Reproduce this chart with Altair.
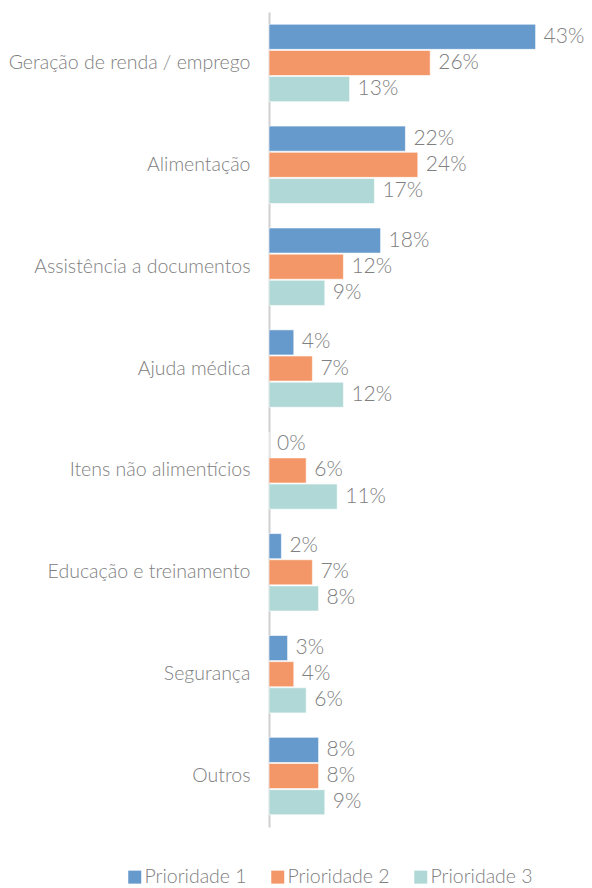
import altair as alt
import pandas as pd

categories = ["Geração de renda / emprego", "Alimentação", "Assistência a documentos",
              "Ajuda médica", "Itens não alimentícios", "Educação e treinamento",
              "Segurança", "Outros"]
series = ["Prioridade 1", "Prioridade 2", "Prioridade 3"]
p1 = [43, 22, 18, 4, 0, 2, 3, 8]
p2 = [26, 24, 12, 7, 6, 7, 4, 8]
p3 = [13, 17, 9, 12, 11, 8, 6, 9]
colors = ["#6699cc", "#f39768", "#afd8d6"]

rows = []
for i, c in enumerate(categories):
    for s, vals in zip(series, [p1, p2, p3]):
        rows.append({"cat": c, "serie": s, "val": vals[i], "lbl": f"{vals[i]}%"})
df = pd.DataFrame(rows)

FONT = "Lato"
GRAY = "#808080"

y = alt.Y("cat:N", sort=categories, title=None,
          scale=alt.Scale(paddingInner=0.24, paddingOuter=0.12),
          axis=alt.Axis(labelFont=FONT, labelFontSize=19.5, labelColor=GRAY,
                        labelFontWeight=300,
                        labelPadding=19, ticks=False, domainColor="#d0d0d0",
                        domainWidth=2, labelLimit=300))
yoff = alt.YOffset("serie:N", sort=series, scale=alt.Scale(paddingInner=0.04))
x = alt.X("val:Q", scale=alt.Scale(domain=[0, 50]), axis=None)

bars = alt.Chart(df).mark_bar(stroke="white", strokeWidth=0.6).encode(
    x=x, y=y, yOffset=yoff,
    color=alt.Color("serie:N", sort=series,
                    scale=alt.Scale(domain=series, range=colors),
                    legend=alt.Legend(title=None, orient="none", direction="horizontal",
                                      legendX=-144, legendY=855,
                                      symbolType="square", symbolSize=169,
                                      symbolStrokeWidth=0,
                                      labelFont=FONT, labelFontSize=19.5,
                                      labelFontWeight=300,
                                      labelColor=GRAY, labelOffset=0,
                                      columnPadding=21)),
)
text = alt.Chart(df).mark_text(align="left", baseline="middle", dx=8,
                               font=FONT, fontSize=21, fontWeight=300,
                               color=GRAY).encode(
    x=x, y=y, yOffset=yoff, text="lbl:N")

chart = (bars + text).properties(
    width=310, height=815,
    autosize=alt.AutoSizeParams(type="none"),
    padding={"left": 261, "top": 4, "right": 5, "bottom": 60},
).configure_view(stroke=None)

chart.save("out.html", embed_options={"renderer": "svg", "actions": False})
